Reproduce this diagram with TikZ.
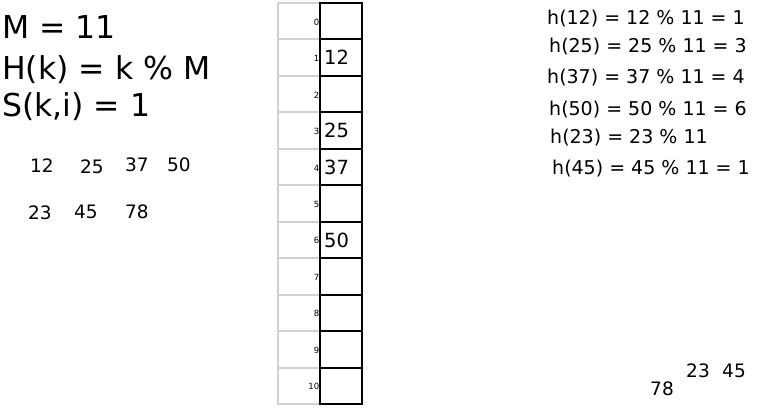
\documentclass[tikz,border=0pt]{standalone}
\usepackage{fontspec}
\setmainfont{DejaVu Sans}
\tikzset{
  idxcell/.style={draw=black!18, line width=2pt, minimum width=42pt, minimum height=36.45pt, inner sep=0pt},
  slot/.style={draw=black, line width=2pt, minimum width=42pt, minimum height=36.45pt, inner sep=0pt},
  idxlabel/.style={font=\fontsize{8.5}{10}\selectfont, inner sep=0pt},
  slotval/.style={font=\fontsize{19.5}{23}\selectfont, inner sep=0pt, anchor=west},
  defn/.style={font=\fontsize{31.5}{36}\selectfont, inner sep=0pt, anchor=base west},
  keyval/.style={font=\fontsize{18.5}{22}\selectfont, inner sep=0pt},
  calc/.style={font=\fontsize{19}{22}\selectfont, inner sep=0pt, anchor=west}
}
\begin{document}
\begin{tikzpicture}[x=1pt, y=-1pt]
  \useasboundingbox (0,0) rectangle (761,415);

  % the table
  \foreach \i in {0,...,10} {
    \node[idxcell] (idx\i) at (299, {3+36.45*\i+18.225}) {};
    \node[slot] (slot\i) at (341, {3+36.45*\i+18.225}) {};
    \node[idxlabel, anchor=base east] (lab\i) at ([xshift=-1.5pt, yshift=-4pt]idx\i.east) {\i};
  }
  \node[slotval] (v12) at ([xshift=5pt]slot1.west) {12};
  \node[slotval] (v25) at ([xshift=5pt]slot3.west) {25};
  \node[slotval] (v37) at ([xshift=5pt]slot4.west) {37};
  \node[slotval] (v50) at ([xshift=5pt]slot6.west) {50};

  % definitions
  \node[defn] (m) at (2, 38) {M = 11};
  \node[defn] (h) at (2, 79) {H(k) = k \% M};
  \node[defn] (s) at (2, 116) {S(k,i) = 1};

  % keys
  \node[keyval] (k12) at (42, 166) {12};
  \node[keyval] (k25) at (92, 167) {25};
  \node[keyval] (k37) at (137, 165) {37};
  \node[keyval] (k50) at (179, 165) {50};
  \node[keyval] (k23) at (40, 213) {23};
  \node[keyval] (k45) at (86, 212) {45};
  \node[keyval] (k78) at (137, 212) {78};

  % hash values
  \node[calc] (c12) at (547, 19) {h(12) = 12 \% 11 = 1};
  \node[calc] (c25) at (549, 47) {h(25) = 25 \% 11 = 3};
  \node[calc] (c37) at (547, 78) {h(37) = 37 \% 11 = 4};
  \node[calc] (c50) at (549, 110) {h(50) = 50 \% 11 = 6};
  \node[calc] (c23) at (550, 138) {h(23) = 23 \% 11};
  \node[calc] (c45) at (552, 169) {h(45) = 45 \% 11 = 1};

  % leftover keys
  \node[keyval] (r78) at (662, 389) {78};
  \node[keyval] (r23) at (698, 371) {23};
  \node[keyval] (r45) at (734, 371) {45};
\end{tikzpicture}
\end{document}
